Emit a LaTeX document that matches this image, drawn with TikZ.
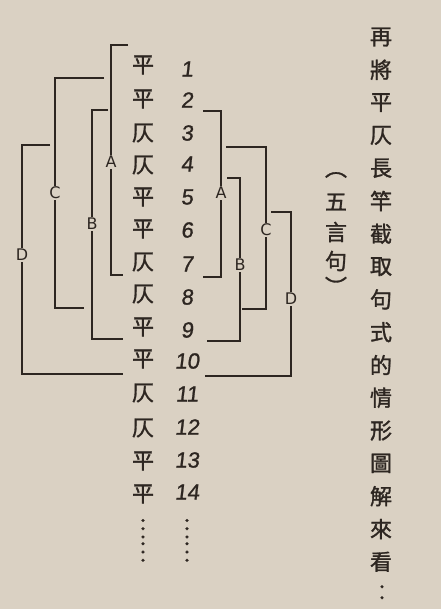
\documentclass[tikz,border=0pt]{standalone}
\usepackage{fontspec}
\newfontfamily\cjk[FakeBold=1.3]{Noto Sans CJK TC}
\newfontfamily\numf[FakeBold=1,FakeSlant=0.12]{Liberation Sans}
\setsansfont{DejaVu Sans}
\definecolor{paper}{RGB}{218,209,195}
\definecolor{ink}{RGB}{45,38,33}
\begin{document}
\begin{tikzpicture}[x=1pt,y=-1pt,
  ch/.style={font=\cjk\fontsize{22}{22}\selectfont,text=ink,inner sep=0pt},
  num/.style={font=\numf\fontsize{22}{22}\selectfont,text=ink,inner sep=0pt},
  br/.style={draw=ink,line width=1.7pt},
  lab/.style={font=\sffamily\fontsize{16}{16}\selectfont,text=ink,fill=paper,inner sep=1pt}]
\fill[paper] (0,0) rectangle (441,609);
\useasboundingbox (0,0) rectangle (441,609);
% left character column
\foreach \c/\y [count=\i] in {平/65,平/99,仄/133,仄/165,平/197,平/229,仄/262,仄/294,平/327,平/359,仄/393,仄/428,平/461,平/494}
  \node[ch] (c\i) at (143,\y) {\c};
\node[ch,rotate=-90] (cdots) at (143,540) {……};
% number column
\foreach \y [count=\i] in {69,100,133,164,197,230,264,297,330,361,394,427,460,492}
  \node[num] (n\i) at (187,\y) {\i};
\node[ch,rotate=-90] (ndots) at (187,540) {……};
% right title column
\foreach \c [count=\i from 0] in {再,將,平,仄,長,竿,截,取,句,式,的,情,形,圖,解,來,看}
  \node[ch] (t\i) at (381,{37+32.8*\i}) {\c};
\node[ch] (tcolon) at (382,593) {︰};
% (five-character line)
\node[ch] (p0) at (336,175) {︵};
\node[ch] (p1) at (336,202) {五};
\node[ch] (p2) at (336,232) {言};
\node[ch] (p3) at (336,261) {句};
\node[ch] (p4) at (336,286) {︶};
% brackets: name/xstart/ytop/xvert/ybottom/xend
\foreach \n/\xa/\ya/\xv/\yb/\xb in {
  LA/128/45/111/275/123,
  LC/104/78/55/308/84,
  LB/108/110/92/339/123,
  LD/50/145/22/374/123,
  RA/203/111/221/277/203,
  RC/226/147/266/309/242,
  RB/227/178/240/341/207,
  RD/271/212/291/376/205}{
  \coordinate (\n s) at (\xa,\ya);
  \coordinate (\n e) at (\xb,\yb);
  \draw[br] (\n s) -| (\xv,\yb) -- (\n e);
}
\node[lab] (lA) at (111,162) {A};
\node[lab] (lC) at (55,193) {C};
\node[lab] (lB) at (92,224) {B};
\node[lab] (lD) at (22,255) {D};
\node[lab] (rA) at (221,193) {A};
\node[lab] (rC) at (266,230) {C};
\node[lab] (rB) at (240,265) {B};
\node[lab] (rD) at (291,299) {D};
\end{tikzpicture}
\end{document}
